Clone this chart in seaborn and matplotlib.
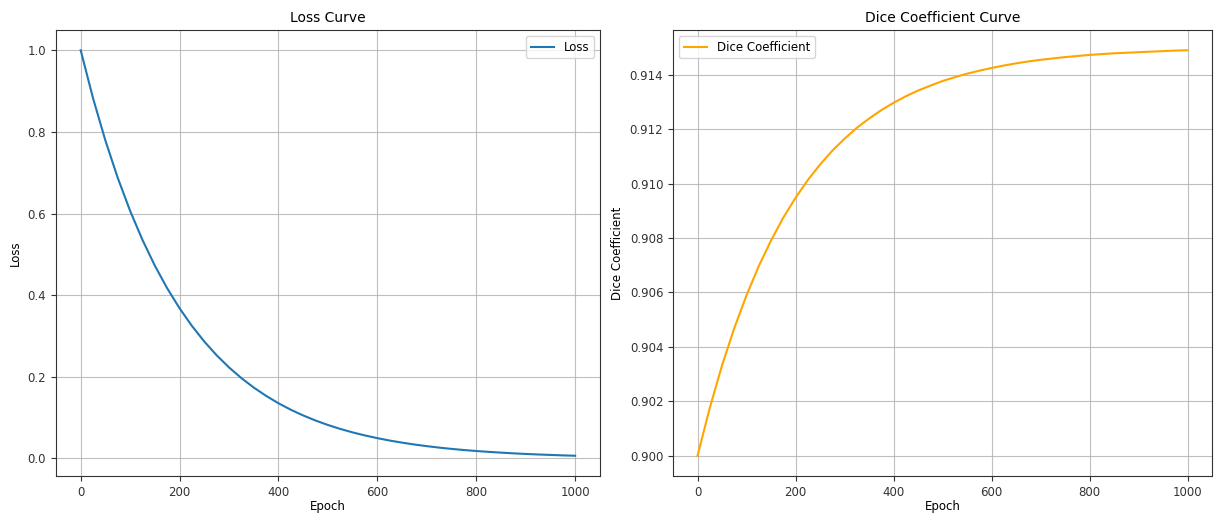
import pandas as pd
import matplotlib.pyplot as plt
import seaborn as sns

# values at every 25 epochs
epochs = list(range(0, 1001, 25))
loss = [1.0, 0.8825, 0.7788, 0.6873, 0.6065, 0.5353, 0.4724, 0.4169, 0.3679, 0.3247,
        0.2865, 0.2528, 0.2231, 0.1969, 0.1738, 0.1534, 0.1353, 0.1194, 0.1054, 0.0930,
        0.0821, 0.0724, 0.0639, 0.0564, 0.0498, 0.0439, 0.0388, 0.0342, 0.0302, 0.0266,
        0.0235, 0.0207, 0.0183, 0.0162, 0.0143, 0.0126, 0.0111, 0.0098, 0.0087, 0.0076,
        0.0067]
dice = [0.90000, 0.90176, 0.90332, 0.90469, 0.90590, 0.90697, 0.90791, 0.90875, 0.90948,
        0.91013, 0.91070, 0.91121, 0.91165, 0.91205, 0.91239, 0.91270, 0.91297, 0.91321,
        0.91342, 0.91360, 0.91377, 0.91391, 0.91404, 0.91415, 0.91425, 0.91434, 0.91442,
        0.91449, 0.91455, 0.91460, 0.91465, 0.91469, 0.91473, 0.91476, 0.91479, 0.91481,
        0.91483, 0.91485, 0.91487, 0.91489, 0.91490]

df = pd.DataFrame({'Epoch': epochs, 'Loss': loss, 'Dice Coefficient': dice})

plt.rcParams['font.family'] = ['DejaVu Sans']
plt.rcParams['font.size'] = 8.5
plt.rcParams['axes.edgecolor'] = '#333333'
plt.rcParams['xtick.color'] = '#333333'
plt.rcParams['ytick.color'] = '#333333'

fig = plt.figure(figsize=(12.14, 5.15), dpi=100)
ax1 = fig.add_axes([0.0461, 0.0757, 0.448, 0.866])
ax2 = fig.add_axes([0.5544, 0.0757, 0.444, 0.866])

# loss curve
sns.lineplot(data=df, x='Epoch', y='Loss', ax=ax1, color='#1f77b4', linewidth=1.5, label='Loss')
ax1.set_title('Loss Curve', fontsize=10)
ax1.set_xlabel('Epoch', labelpad=1)
ax1.set_ylabel('Loss')
ax1.grid(True, color='#b0b0b0', alpha=0.8)
ax1.legend(loc='upper right')

# dice curve
sns.lineplot(data=df, x='Epoch', y='Dice Coefficient', ax=ax2, color='orange', linewidth=1.5,
             label='Dice Coefficient')
ax2.set_title('Dice Coefficient Curve', fontsize=10)
ax2.set_xlabel('Epoch', labelpad=1)
ax2.set_ylabel('Dice Coefficient')
ax2.grid(True, color='#b0b0b0', alpha=0.8)
ax2.legend(loc='upper left')

plt.savefig('out.png', dpi=100)
